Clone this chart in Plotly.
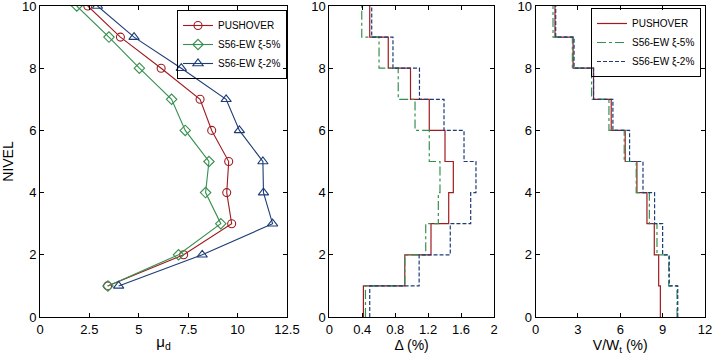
import plotly.graph_objects as go

# ---------------- data ----------------
levels = [1, 2, 3, 4, 5, 6, 7, 8, 9, 10]
story_base = [0, 1, 2, 3, 4, 5, 6, 7, 8, 9]

# Panel 1: ductility demand mu_d per level
mu_push = [3.42, 7.27, 9.70, 9.45, 9.55, 8.69, 8.10, 6.13, 4.07, 2.42]
mu_s5 = [3.44, 7.01, 9.15, 8.38, 8.55, 7.35, 6.66, 5.03, 3.49, 1.86]
mu_s2 = [3.98, 8.21, 11.77, 11.31, 11.28, 10.09, 9.42, 7.15, 4.76, 2.91]

# Panel 2: interstory drift Delta (%) per story
dr_push = [0.414, 0.917, 1.235, 1.450, 1.506, 1.405, 1.214, 0.986, 0.716, 0.491]
dr_s5 = [0.439, 0.917, 1.171, 1.324, 1.344, 1.214, 1.041, 0.837, 0.604, 0.394]
dr_s2 = [0.491, 1.091, 1.469, 1.717, 1.781, 1.636, 1.393, 1.095, 0.773, 0.515]

# Panel 3: story shear V/Wt (%) per story
vs_push = [8.84, 8.72, 8.41, 7.89, 7.18, 6.35, 5.36, 4.11, 2.66, 1.38]
vs_s5 = [10.02, 9.43, 8.60, 8.06, 7.13, 6.28, 5.20, 3.97, 2.61, 1.24]
vs_s2 = [10.07, 9.47, 9.00, 8.43, 7.61, 6.66, 5.48, 4.11, 2.73, 1.43]

names = ["PUSHOVER", "S56-EW \u03be-5%", "S56-EW \u03be-2%"]
RED = "#a01a1e"
GREEN = "#35904f"
BLUE = "#1c3c78"

FONT = "Liberation Sans, Arial, sans-serif"

fig = go.Figure()

# Panel 1
for vals, nm, col, sym, sz in [(mu_push, names[0], RED, "circle-open", 8),
                               (mu_s5, names[1], GREEN, "diamond-open", 8),
                               (mu_s2, names[2], BLUE, "triangle-up-open", 9)]:
    fig.add_trace(go.Scatter(x=vals, y=levels, mode="lines+markers", name=nm,
                             line=dict(color=col, width=1.1),
                             marker=dict(symbol=sym, size=sz, color=col, line=dict(width=1.1, color=col)),
                             xaxis="x", yaxis="y", legend="legend"))

# step helpers: points at the base of each story, final at top
def step_xy(vals):
    return vals + [vals[-1]], story_base + [levels[-1]]

styles = [(RED, "solid"), (GREEN, "dashdot"), (BLUE, "4px,2px")]

for (vals, nm, (col, dash)) in zip([dr_push, dr_s5, dr_s2], names, styles):
    xs, ys = step_xy(vals)
    fig.add_trace(go.Scatter(x=xs, y=ys, mode="lines", line_shape="vh", name=nm, showlegend=False,
                             line=dict(color=col, width=1.2, dash=dash), xaxis="x2", yaxis="y2"))

for (vals, nm, (col, dash)) in zip([vs_push, vs_s5, vs_s2], names, styles):
    xs, ys = step_xy(vals)
    fig.add_trace(go.Scatter(x=xs, y=ys, mode="lines", line_shape="vh", name=nm,
                             line=dict(color=col, width=1.2, dash=dash), xaxis="x3", yaxis="y3",
                             legend="legend2"))

W, H = 714, 358
ml, mr, mt, mb = 40, 9, 6, 41
pw = W - ml - mr
ph = H - mt - mb

def dom(a, b):
    return [(a - ml) / pw, (b - ml) / pw]

axcommon = dict(showline=True, linecolor="black", linewidth=1, mirror="ticks", ticks="inside",
                ticklen=4, tickcolor="black", showgrid=False, zeroline=False, automargin=False,
                ticklabeloverflow="allow",
                tickfont=dict(family=FONT, size=13, color="black"))

fig.update_layout(
    width=W, height=H, margin=dict(l=ml, r=mr, t=mt, b=mb, autoexpand=False),
    paper_bgcolor="white", plot_bgcolor="white",
    font=dict(family=FONT, color="black"),
    xaxis=dict(domain=dom(40, 287), range=[0, 12.5], dtick=2.5, tick0=0, anchor="y",
               title=dict(text="\u03bc<sub>d</sub>", font=dict(size=15), standoff=0), **axcommon),
    yaxis=dict(domain=[0, 1], range=[0, 10], dtick=2, anchor="x",
               title=dict(text="NIVEL", font=dict(size=14), standoff=8), **axcommon),
    xaxis2=dict(domain=dom(329.3, 494), range=[0, 2], dtick=0.4, tick0=0, anchor="y2",
                title=dict(text="\u0394 (%)", font=dict(size=14), standoff=0), **axcommon),
    yaxis2=dict(domain=[0, 1], range=[0, 10], dtick=2, anchor="x2", **axcommon),
    xaxis3=dict(domain=dom(535.5, 705), range=[0, 12], dtick=3, tick0=0, anchor="y3",
                title=dict(text="V/W<sub>t</sub> (%)", font=dict(size=14), standoff=0), **axcommon),
    yaxis3=dict(domain=[0, 1], range=[0, 10], dtick=2, anchor="x3", **axcommon),
    legend=dict(x=(287 - ml) / pw, y=1 - (10 - mt) / ph, xanchor="right", yanchor="top",
                bgcolor="rgba(255,255,255,0)", bordercolor="black", borderwidth=1,
                font=dict(family=FONT, size=10), tracegroupgap=0, itemwidth=30),
    legend2=dict(x=(701 - ml) / pw, y=1 - (8 - mt) / ph, xanchor="right", yanchor="top",
                 bgcolor="rgba(255,255,255,0)", bordercolor="black", borderwidth=1,
                 font=dict(family=FONT, size=10), tracegroupgap=0, itemwidth=30),
)

fig.write_html("out.html", config={"displayModeBar": False},
               post_script="document.body.style.margin='0px';")
